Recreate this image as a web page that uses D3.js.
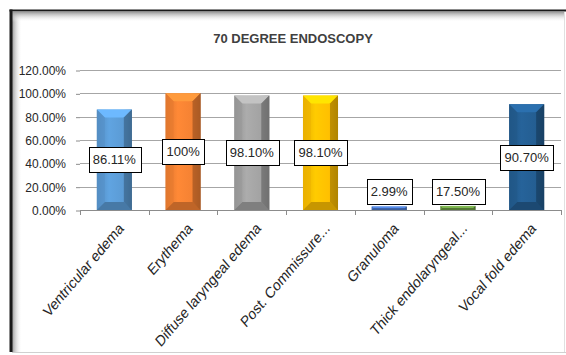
<!DOCTYPE html>
<html><head><meta charset="utf-8">
<script src="https://cdn.jsdelivr.net/npm/d3@7"></script>
<style>
html,body{margin:0;padding:0;background:#fff;}
svg{display:block;}
</style></head>
<body>
<svg id="chart" width="566" height="355"></svg>
<script>
const title = "70 DEGREE ENDOSCOPY";
const categories = ["Ventricular edema","Erythema","Diffuse laryngeal edema","Post. Commissure...","Granuloma","Thick endolaryngeal...","Vocal fold edema"];
const barValues = [86.11, 100, 98.10, 98.10, 2.99, 3.5, 90.70];
const labelTexts = ["86.11%","100%","98.10%","98.10%","2.99%","17.50%","90.70%"];
const yTicks = [0,20,40,60,80,100,120];
const barColors = ["#5b9bd5","#f58233","#a3a3a3","#ffc000","#4a78c8","#6a9a44","#245e92"];

const svg = d3.select("#chart");
const defs = svg.append("defs");

// frame
const fg = defs.append("linearGradient").attr("id","shL").attr("x1",0).attr("x2",1).attr("y1",0).attr("y2",0);
fg.append("stop").attr("offset",0).attr("stop-color","#9a9a9a");
fg.append("stop").attr("offset",1).attr("stop-color","#fff").attr("stop-opacity",0);
const fgT = defs.append("linearGradient").attr("id","shT").attr("x1",0).attr("x2",0).attr("y1",0).attr("y2",1);
fgT.append("stop").attr("offset",0).attr("stop-color","#9a9a9a");
fgT.append("stop").attr("offset",1).attr("stop-color","#fff").attr("stop-opacity",0);
svg.append("rect").attr("x",12).attr("y",12).attr("width",10).attr("height",340).attr("fill","url(#shL)");
svg.append("rect").attr("x",12).attr("y",12).attr("width",552).attr("height",10).attr("fill","url(#shT)");
svg.append("line").attr("x1",11).attr("x2",11).attr("y1",9.5).attr("y2",352).attr("stroke","#1a1a1a").attr("stroke-width",3);
svg.append("line").attr("x1",9.5).attr("x2",566).attr("y1",10.5).attr("y2",10.5).attr("stroke","#1a1a1a").attr("stroke-width",2);
svg.append("line").attr("x1",12).attr("x2",566).attr("y1",352.5).attr("y2",352.5).attr("stroke","#d0d0d0").attr("stroke-width",1);
svg.append("line").attr("x1",564.5).attr("x2",564.5).attr("y1",12).attr("y2",352).attr("stroke","#e0e0e0").attr("stroke-width",1);

const mLeft = 80, mRight = 561, mTop = 70, mBottom = 210;
const x = d3.scaleBand().domain(categories).range([mLeft,mRight]).paddingInner(0.49).paddingOuter(0.245);
const y = d3.scaleLinear().domain([0,120]).range([mBottom,mTop]);

// title
svg.append("text").attr("x",293).attr("y",43).attr("text-anchor","middle")
  .attr("font-family","Liberation Sans, Arial, sans-serif").attr("font-weight","bold")
  .attr("font-size",13).attr("fill","#404040").text(title);

// gridlines
svg.append("g").selectAll("line").data(yTicks).join("line")
  .attr("x1",mLeft).attr("x2",mRight).attr("y1",d=>Math.round(y(d))+0.5).attr("y2",d=>Math.round(y(d))+0.5)
  .attr("stroke",d=>d===0?"#8c8c8c":"#a6a6a6").attr("stroke-width",1);

// y axis
const yAxis = d3.axisLeft(y).tickValues(yTicks).tickSize(4).tickPadding(10).tickFormat(d=>d.toFixed(2)+"%");
const ga = svg.append("g").attr("transform",`translate(${mLeft},0.5)`).call(yAxis);
ga.select(".domain").remove();
ga.selectAll(".tick line").attr("stroke","#8c8c8c");
ga.selectAll("text").attr("font-family","Liberation Sans, Arial, sans-serif").attr("font-size",12).attr("fill","#262626");

// x axis ticks (between categories)
const step = x.step();
const boundaries = d3.range(categories.length+1).map(i=>mLeft+i*step);
svg.append("g").selectAll("line").data(boundaries).join("line")
  .attr("x1",d=>Math.round(d)+0.5).attr("x2",d=>Math.round(d)+0.5)
  .attr("y1",mBottom).attr("y2",mBottom+5).attr("stroke","#8c8c8c");

// x labels
svg.append("g").selectAll("text").data(categories).join("text")
  .attr("transform",d=>`translate(${x(d)+x.bandwidth()/2+3},${mBottom+11}) scale(1,1.17) rotate(-45)`)
  .attr("text-anchor","end").attr("dy","0.75em")
  .attr("font-family","Liberation Sans, Arial, sans-serif").attr("font-size",13.3).attr("fill","#262626")
  .text(d=>d);

// bars with bevel
barColors.forEach((c,i)=>{
  const g = defs.append("linearGradient").attr("id","bg"+i).attr("x1",0).attr("x2",1).attr("y1",0).attr("y2",0);
  const base = d3.color(c);
  g.append("stop").attr("offset",0).attr("stop-color",base.darker(0.3));
  g.append("stop").attr("offset",0.35).attr("stop-color",base.brighter(0.15));
  g.append("stop").attr("offset",0.75).attr("stop-color",base);
  g.append("stop").attr("offset",1).attr("stop-color",base.darker(1.2));
});

const bars = svg.append("g");
categories.forEach((cat,i)=>{
  const v = barValues[i];
  const x0 = x(cat), w = x.bandwidth(), x1 = x0+w;
  const yt = y(v), yb = y(0);
  const h = yb-yt;
  const c = d3.color(barColors[i]);
  const b = Math.min(8, h/2, w/2);
  bars.append("rect").attr("x",x0).attr("y",yt).attr("width",w).attr("height",h).attr("fill",`url(#bg${i})`);
  bars.append("path").attr("d",`M${x0},${yt}L${x1},${yt}L${x1-b},${yt+b}L${x0+b},${yt+b}Z`).attr("fill",c.brighter(0.5));
  bars.append("path").attr("d",`M${x0},${yb}L${x1},${yb}L${x1-b},${yb-b}L${x0+b},${yb-b}Z`).attr("fill",c.darker(0.7));
  bars.append("path").attr("d",`M${x1},${yt}L${x1},${yb}L${x1-b},${yb-b}L${x1-b},${yt+b}Z`).attr("fill",c.darker(1.0)).attr("opacity",0.8);
  bars.append("path").attr("d",`M${x0},${yt}L${x0},${yb}L${x0+b},${yb-b}L${x0+b},${yt+b}Z`).attr("fill",c.darker(0.2)).attr("opacity",0.6);
});

// labels
const lab = svg.append("g");
categories.forEach((cat,i)=>{
  const cx = x(cat)+x.bandwidth()/2;
  const cy = Math.min(y(barValues[i]/2), y(0)-18.5);
  const t = lab.append("text").attr("x",cx).attr("y",cy).attr("dy","0.36em").attr("text-anchor","middle")
    .attr("font-family","Liberation Sans, Arial, sans-serif").attr("font-size",13).attr("fill","#262626").text(labelTexts[i]);
  const bb = t.node().getBBox();
  const bw = bb.width+8, bh = 25;
  lab.insert("rect","text").attr("x",Math.round(cx-bw/2)+0.5).attr("y",Math.round(cy-bh/2)+0.5).attr("width",Math.round(bw)).attr("height",bh)
    .attr("fill","#fff").attr("stroke","#000").attr("stroke-width",1);
});
</script>
</body></html>
